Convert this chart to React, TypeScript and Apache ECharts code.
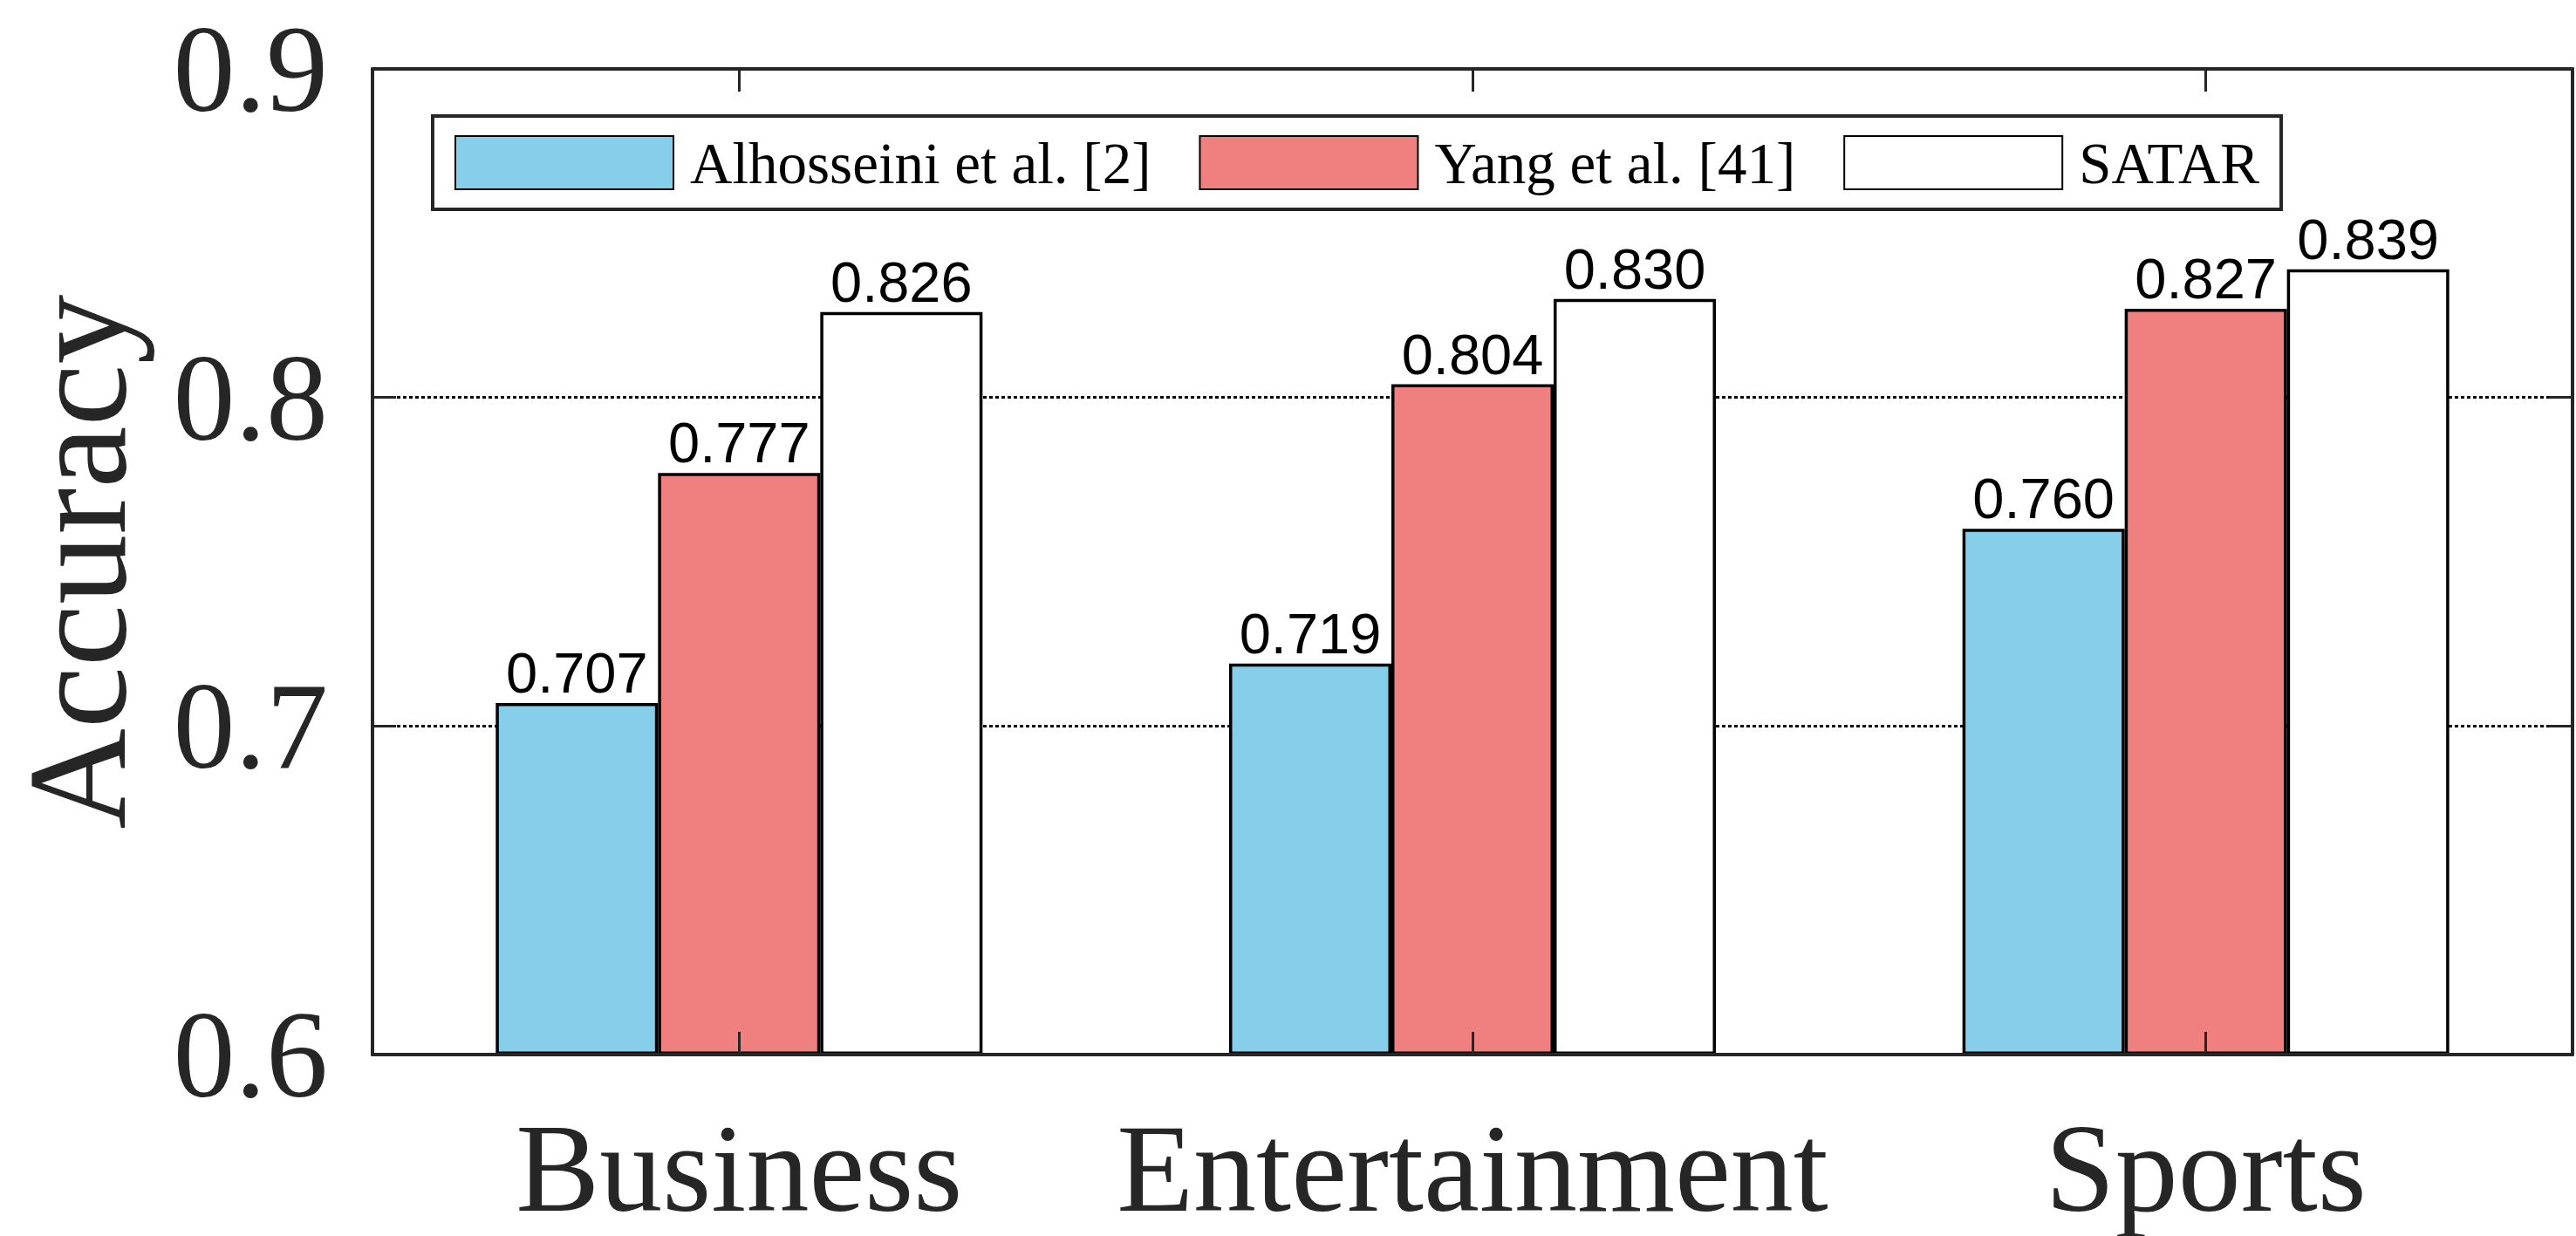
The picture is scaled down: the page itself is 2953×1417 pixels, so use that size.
import React, { useEffect, useRef } from "react";
import * as echarts from "echarts";

const categories = ["Business", "Entertainment", "Sports"];
const seriesNames = ["Alhosseini et al. [2]", "Yang et al. [41]", "SATAR"];
const alhosseiniValues = [0.707, 0.719, 0.76];
const yangValues = [0.777, 0.804, 0.827];
const satarValues = [0.826, 0.83, 0.839];
const seriesColors = ["#87CEEB", "#F08080", "#FFFFFF"];
const yMin = 0.6;
const yMax = 0.9;
const yStep = 0.1;

const AXIS = "#262626";
const SERIF = "'Liberation Serif', 'Times New Roman', serif";
const SANS = "'Liberation Sans', Arial, sans-serif";

export default function App() {
  const ref = useRef<HTMLDivElement>(null);

  useEffect(() => {
    if (!ref.current) return;
    const chart = echarts.init(ref.current, null, { renderer: "svg" });
    const values = [alhosseiniValues, yangValues, satarValues];

    const baseY = {
      type: "value",
      min: yMin,
      max: yMax,
      interval: yStep,
      startValue: yMin,
    };

    const option: any = {
      animation: false,
      backgroundColor: "#ffffff",
      grid: { left: 427, right: 4, top: 79, bottom: 208, containLabel: false },
      legend: {
        data: seriesNames,
        left: 496,
        top: 133,
        orient: "horizontal",
        icon: "rect",
        itemWidth: 250,
        itemHeight: 61,
        itemGap: 55,
        padding: [20, 25, 20, 25],
        borderColor: AXIS,
        borderWidth: 4,
        backgroundColor: "#ffffff",
        textStyle: {
          fontFamily: SERIF,
          fontSize: 67,
          color: "#000000",
          padding: [0, 0, 0, 14],
        },
      },
      xAxis: [
        {
          type: "category",
          data: categories,
          position: "bottom",
          z: 5,
          boundaryGap: true,
          axisLine: { show: true, lineStyle: { color: AXIS, width: 4 } },
          axisTick: {
            show: true,
            inside: true,
            alignWithLabel: true,
            length: 26,
            lineStyle: { color: AXIS, width: 3 },
          },
          axisLabel: {
            show: true,
            interval: 0,
            margin: 58,
            fontFamily: SERIF,
            fontSize: 144,
            color: AXIS,
          },
          splitLine: { show: false },
        },
        {
          type: "category",
          data: categories,
          position: "top",
          z: 5,
          boundaryGap: true,
          axisLine: { show: true, lineStyle: { color: AXIS, width: 4 } },
          axisTick: {
            show: true,
            inside: true,
            alignWithLabel: true,
            length: 26,
            lineStyle: { color: AXIS, width: 3 },
          },
          axisLabel: { show: false },
          splitLine: { show: false },
        },
      ],
      yAxis: [
        {
          ...baseY,
          position: "left",
          z: 5,
          name: "Accuracy",
          nameLocation: "middle",
          nameGap: 258,
          nameTextStyle: { fontFamily: SERIF, fontSize: 160, color: AXIS },
          axisLine: { show: true, lineStyle: { color: AXIS, width: 4 } },
          axisTick: { show: true, inside: true, length: 27, lineStyle: { color: AXIS, width: 3 } },
          axisLabel: {
            show: true,
            margin: 51,
            fontFamily: SERIF,
            fontSize: 142,
            color: AXIS,
            formatter: (v: number) => v.toFixed(1),
          },
          splitLine: { show: false },
        },
        {
          ...baseY,
          position: "right",
          z: 5,
          axisLine: { show: true, lineStyle: { color: AXIS, width: 4 } },
          axisTick: { show: true, inside: true, length: 27, lineStyle: { color: AXIS, width: 3 } },
          axisLabel: { show: false },
          splitLine: { show: false },
        },
        {
          ...baseY,
          position: "left",
          z: 0,
          axisLine: { show: false },
          axisTick: { show: false },
          axisLabel: { show: false },
          splitLine: {
            show: true,
            lineStyle: { color: "#000000", width: 3, type: [4, 3] },
          },
        },
      ],
      series: seriesNames.map((name, i) => ({
        name,
        type: "bar",
        xAxisIndex: 0,
        yAxisIndex: 0,
        data: values[i],
        barWidth: 186,
        barGap: "0%",
        z: 2,
        itemStyle: {
          color: seriesColors[i],
          borderColor: "#000000",
          borderWidth: 3.5,
        },
        label: {
          show: true,
          position: "top",
          distance: 2,
          fontFamily: SANS,
          fontSize: 65,
          color: "#000000",
          formatter: (p: any) => Number(p.value).toFixed(3),
        },
      })),
    };

    chart.setOption(option);
    return () => chart.dispose();
  }, []);

  return (
    <div
      ref={ref}
      style={{ position: "fixed", left: 0, top: 0, width: 2953, height: 1417, background: "#fff" }}
    />
  );
}
